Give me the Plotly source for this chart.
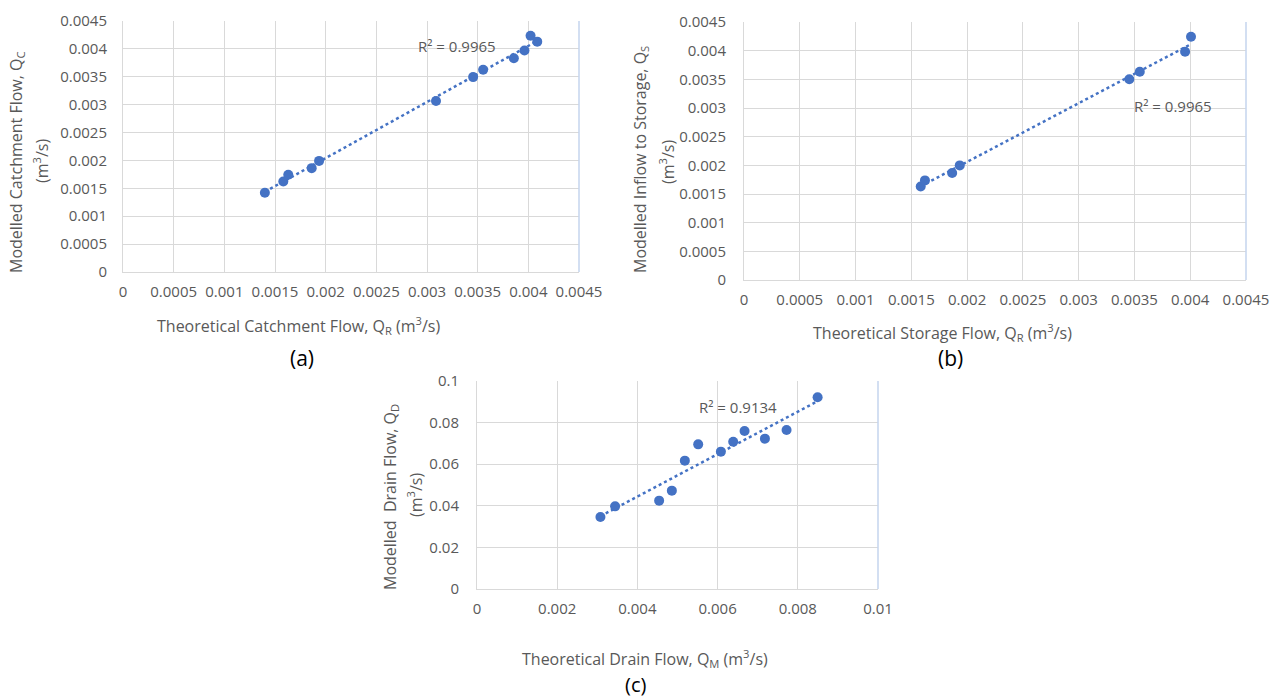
import numpy as np
import plotly.graph_objects as go

# ---------------- data ----------------
a_x = [0.00140, 0.001582, 0.001631, 0.001862, 0.001935, 0.003089, 0.003455,
       0.003554, 0.003857, 0.003962, 0.004022, 0.004088]
a_y = [0.00142, 0.001624, 0.001743, 0.001862, 0.001992, 0.003067, 0.003494,
       0.003626, 0.003833, 0.003970, 0.004237, 0.004130]

b_x = [0.001584, 0.001622, 0.001866, 0.001934, 0.003454, 0.003548, 0.003954, 0.004007]
b_y = [0.001632, 0.001737, 0.001865, 0.001999, 0.003502, 0.003631, 0.003980, 0.004243]

c_x = [0.003078, 0.003444, 0.004542, 0.004859, 0.005183, 0.005516, 0.006082,
       0.006389, 0.006672, 0.007180, 0.007720, 0.008494]
c_y = [0.03462, 0.03974, 0.04247, 0.04728, 0.06170, 0.06955, 0.06603,
       0.07083, 0.07596, 0.07228, 0.07644, 0.09215]

r2_labels = ["R² = 0.9965", "R² = 0.9965", "R² = 0.9134"]

ab_ticks = [0, 0.0005, 0.001, 0.0015, 0.002, 0.0025, 0.003, 0.0035, 0.004, 0.0045]
ab_ticktext = ["0", "0.0005", "0.001", "0.0015", "0.002", "0.0025", "0.003",
               "0.0035", "0.004", "0.0045"]
c_xticks = [0, 0.002, 0.004, 0.006, 0.008, 0.01]
c_xticktext = ["0", "0.002", "0.004", "0.006", "0.008", "0.01"]
c_yticks = [0, 0.02, 0.04, 0.06, 0.08, 0.1]
c_yticktext = ["0", "0.02", "0.04", "0.06", "0.08", "0.1"]

# ---------------- style ----------------
W, H = 1277, 700
BLUE = "#4472C4"
GRID = "#D9D9D9"
TXT = "#595959"
FONT = "Open Sans"


def px(x):
    return x / W


def py(y):
    return 1 - y / H


fig = go.Figure()

panels = [
    (a_x, a_y, "x", "y"),
    (b_x, b_y, "x2", "y2"),
    (c_x, c_y, "x3", "y3"),
]

for xs, ys, xa, ya in panels:
    xs_a = np.array(xs)
    ys_a = np.array(ys)
    m, c = np.polyfit(xs_a, ys_a, 1)
    tx = np.array([xs_a.min(), xs_a.max()])
    fig.add_trace(go.Scatter(x=tx, y=m * tx + c, mode="lines",
                             line=dict(color=BLUE, width=2.5, dash="dot"),
                             xaxis=xa, yaxis=ya, showlegend=False, hoverinfo="skip"))
    fig.add_trace(go.Scatter(x=xs, y=ys, mode="markers",
                             marker=dict(color=BLUE, size=10),
                             xaxis=xa, yaxis=ya, showlegend=False, cliponaxis=False))

tickfont = dict(family=FONT, size=15, color=TXT)
common = dict(showgrid=True, gridcolor=GRID, gridwidth=1, zeroline=False,
              showline=True, linecolor=GRID, linewidth=1, automargin=False,
              ticks="outside", tickcolor="rgba(0,0,0,0)", tickfont=tickfont,
              fixedrange=True)

fig.update_layout(
    width=W, height=H, autosize=False,
    margin=dict(l=0, r=0, t=0, b=0, pad=0),
    paper_bgcolor="white", plot_bgcolor="white",
    xaxis=dict(domain=[px(123), px(579)], range=[0, 0.0045], tickvals=ab_ticks,
               ticktext=ab_ticktext, anchor="y", ticklen=6, **common),
    yaxis=dict(domain=[py(272), py(21)], range=[0, 0.0045], tickvals=ab_ticks,
               ticktext=ab_ticktext, anchor="x", ticklen=12, **common),
    xaxis2=dict(domain=[px(744), px(1246)], range=[0, 0.0045], tickvals=ab_ticks,
                ticktext=ab_ticktext, anchor="y2", ticklen=6, **common),
    yaxis2=dict(domain=[py(280), py(22)], range=[0, 0.0045], tickvals=ab_ticks,
                ticktext=ab_ticktext, anchor="x2", ticklen=14, **common),
    xaxis3=dict(domain=[px(477), px(878)], range=[0, 0.01], tickvals=c_xticks,
                ticktext=c_xticktext, anchor="y3", ticklen=6, **common),
    yaxis3=dict(domain=[py(589), py(381)], range=[0, 0.1], tickvals=c_yticks,
                ticktext=c_yticktext, anchor="x3", ticklen=14, **common),
)

# light blue plot-area border on the right side of each panel
for xa, ya in [("x", "y"), ("x2", "y2"), ("x3", "y3")]:
    fig.add_shape(type="line", xref=f"{xa} domain", yref=f"{ya} domain",
                  x0=1, x1=1, y0=0, y1=1, line=dict(color="#C5D4EE", width=1.5))


def ann(text, x, y, size=16, color=TXT, angle=0):
    fig.add_annotation(text=text, x=px(x), y=py(y), xref="paper", yref="paper",
                       showarrow=False, xanchor="center", yanchor="middle",
                       textangle=angle, font=dict(family=FONT, size=size, color=color))


# axis titles
ann("Theoretical Catchment Flow, Q<sub>R</sub> (m<sup>3</sup>/s)", 298, 325)
ann("Modelled Catchment Flow, Q<sub>C</sub>", 16, 162, angle=-90)
ann("(m<sup>3</sup>/s)", 41, 161, angle=-90)

ann("Theoretical Storage Flow, Q<sub>R</sub> (m<sup>3</sup>/s)", 942, 332)
ann("Modelled Inflow to Storage, Q<sub>S</sub>", 641, 160, angle=-90)
ann("(m<sup>3</sup>/s)", 667, 162, angle=-90)

ann("Theoretical Drain Flow, Q<sub>M</sub> (m<sup>3</sup>/s)", 645, 658)
ann("Modelled&nbsp; Drain Flow, Q<sub>D</sub>", 390, 497, angle=-90)
ann("(m<sup>3</sup>/s)", 415, 495, angle=-90)

# R² labels
ann(r2_labels[0], 457, 46, size=15)
ann(r2_labels[1], 1173, 106, size=15)
ann(r2_labels[2], 738, 407, size=15)

# panel labels
ann("(a)", 302, 358, size=21, color="black")
ann("(b)", 950, 358, size=21, color="black")
ann("(c)", 635, 684, size=20, color="black")

fig.write_html("out.html",
               config={"displayModeBar": False, "staticPlot": False},
               post_script="document.body.style.margin='0';"
                           "document.body.style.overflow='hidden';")
